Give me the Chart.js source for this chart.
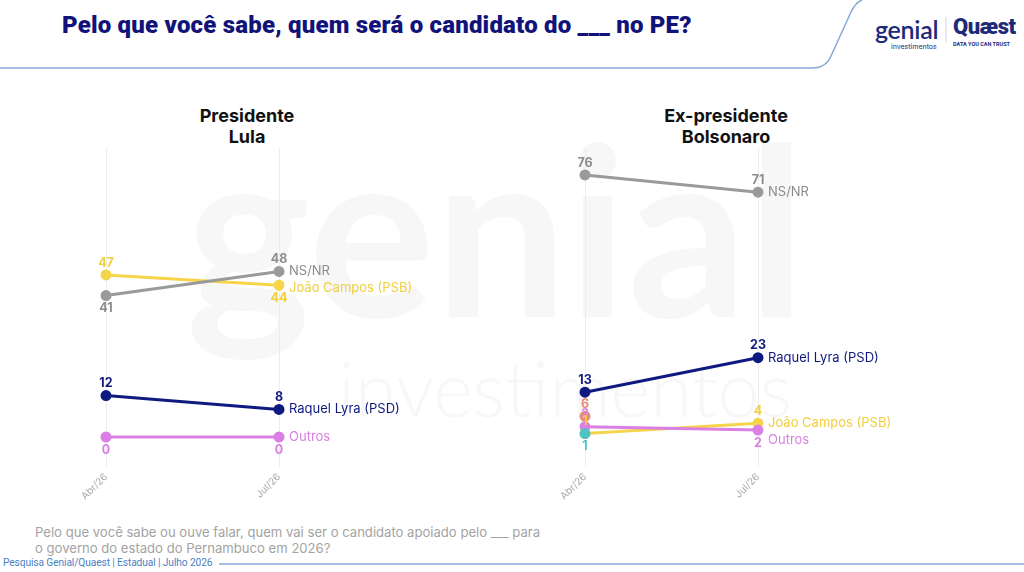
<!DOCTYPE html>
<html>
<head>
<meta charset="UTF-8">
<title>Pelo que você sabe, quem será o candidato do ___ no PE?</title>
<script src="https://cdn.jsdelivr.net/npm/chart.js"></script>
<style>
    body { margin: 0; width: 1024px; height: 572px; overflow: hidden; background: #fff; position: relative; font-family: Inter, sans-serif; }
    .marca { position: absolute; color: #f7f7f7; font-family: Lato, sans-serif; white-space: nowrap; }
    #titulo { position: absolute; left: 62px; top: 11px; font: 900 24px Roboto, sans-serif; color: #11137a; letter-spacing: 0.2px; }
    .subtitulo { position: absolute; width: 240px; text-align: center; font: bold 18px Inter, sans-serif; color: #111; line-height: 21px; }
    canvas { position: absolute; }
    #pergunta { position: absolute; left: 35px; top: 524px; font: 13.1px Inter, sans-serif; color: #a3a3a3; line-height: 16px; }
    #fonte { position: absolute; left: 3px; top: 557px; font: 10.2px Roboto, sans-serif; color: #4b80c2; letter-spacing: -0.1px; }
    #logos { position: absolute; left: 874px; top: 14px; width: 150px; height: 40px; }
</style>
</head>
<body>
<div class="marca" style="left:186px; top:84px; font-size:236px; font-weight:700;">genial</div>
<div class="marca" style="left:338px; top:342px; font-size:76px; font-weight:300;">investimentos</div>

<svg width="1024" height="572" style="position:absolute; left:0; top:0;">
    <path d="M0 68 L812 68 Q826 68 831 56 L851 12 Q856 2 862 0" fill="none" stroke="#86a9d6" stroke-width="1.5"/>
    <line x1="219" y1="564" x2="1024" y2="564" stroke="#86a9d6" stroke-width="1.5"/>
    <line x1="946" y1="17" x2="946" y2="42" stroke="#d0d4e4" stroke-width="1"/>
</svg>

<div id="titulo">Pelo que você sabe, quem será o candidato do ___ no PE?</div>

<div id="logos">
    <div style="position:absolute; left:1px; top:0; font:600 25px Lato, sans-serif; color:#1d2a7a; letter-spacing:-0.3px;">genial</div>
    <div style="position:absolute; left:17px; top:28px; font:7px Inter, sans-serif; color:#1d2a7a;">investimentos</div>
    <div style="position:absolute; left:79px; top:0; font:900 22px Roboto, sans-serif; color:#1d2a7a; letter-spacing:-0.5px;">Quæst</div>
    <div style="position:absolute; left:79px; top:27px; font:bold 5.5px Roboto, sans-serif; color:#1d2a7a;">DATA YOU CAN TRUST</div>
</div>

<div class="subtitulo" style="left:127px; top:105px;">Presidente<br>Lula</div>
<div class="subtitulo" style="left:606px; top:105px;">Ex-presidente<br>Bolsonaro</div>

<canvas id="graficoLula" width="380" height="370" style="left:40px; top:140px;"></canvas>
<canvas id="graficoBolsonaro" width="380" height="370" style="left:519px; top:140px;"></canvas>

<div id="pergunta">Pelo que você sabe ou ouve falar, quem vai ser o candidato apoiado pelo ___ para<br>o governo do estado do Pernambuco em 2026?</div>
<div id="fonte">Pesquisa Genial/Quaest | Estadual | Julho 2026</div>

<script>
    // Dados
    const periodos = ['Abr/26', 'Jul/26'];

    const lulaNsnr = [41, 48];
    const lulaJoao = [47, 44];
    const lulaRaquel = [12, 8];
    const lulaOutros = [0, 0];

    const bolsoNsnr = [76, 71];
    const bolsoRaquel = [13, 23];
    const bolsoJoao = [1, 4];
    const bolsoOutros = [3, 2];
    const bolsoNome1 = [6, null];
    const bolsoNome2 = [1, null];

    const cores = {
        nsnr: '#9a9a9a',
        joao: '#f6d54a',
        raquel: '#0f1a80',
        outros: '#da80e4',
        nome1: '#ec8a78',
        nome2: '#4fc3c3'
    };

    function serie(nome, dados, cor, lados, corTexto) {
        return {
            label: nome,
            nome: nome,
            data: dados,
            lados: lados,
            corTexto: corTexto || cor,
            borderColor: cor,
            backgroundColor: cor,
            borderWidth: 3,
            pointRadius: 4,
            clip: false
        };
    }

    // Rótulos de valor e nomes no fim das linhas
    const rotulos = {
        id: 'rotulos',
        afterDatasetsDraw(chart) {
            const ctx = chart.ctx;
            ctx.save();
            const fim = [];
            chart.data.datasets.forEach((ds, i) => {
                const meta = chart.getDatasetMeta(i);
                ctx.font = 'bold 12.5px Inter';
                ctx.textAlign = 'center';
                ctx.textBaseline = 'middle';
                ctx.fillStyle = ds.corTexto;
                meta.data.forEach((pt, j) => {
                    const v = ds.data[j];
                    if (v === null) return;
                    const y = ds.lados[j] === 'top' ? pt.y - 12 : pt.y + 13;
                    ctx.fillText(v, pt.x, y);
                });
                const n = ds.data.length - 1;
                if (ds.data[n] !== null) {
                    fim.push({ texto: ds.nome, x: meta.data[n].x + 10, y: meta.data[n].y, cor: ds.corTexto });
                }
            });
            fim.sort((a, b) => a.y - b.y);
            for (let k = 1; k < fim.length; k++) {
                if (fim[k].y - fim[k - 1].y < 17) fim[k].y = fim[k - 1].y + 17;
            }
            ctx.font = '13px Inter';
            ctx.textAlign = 'left';
            fim.forEach(f => {
                ctx.fillStyle = f.cor;
                ctx.fillText(f.texto, f.x, f.y);
            });
            ctx.restore();
        }
    };

    function criarGrafico(id, datasets) {
        return new Chart(document.getElementById(id), {
            type: 'line',
            data: { labels: periodos, datasets: datasets },
            options: {
                responsive: false,
                animation: false,
                layout: { padding: { left: 66, right: 141, top: 8, bottom: 3 } },
                plugins: { legend: { display: false }, tooltip: { enabled: false } },
                scales: {
                    x: {
                        offset: false,
                        grid: { color: '#ececec', drawTicks: false },
                        border: { display: false },
                        ticks: {
                            color: '#a9a9a9',
                            font: { size: 10, family: 'Inter' },
                            minRotation: 45,
                            maxRotation: 45,
                            padding: 4
                        },
                        afterFit(scale) { scale.height = 40; }
                    },
                    y: { display: false, min: -8.7, max: 83.8 }
                }
            },
            plugins: [rotulos]
        });
    }

    criarGrafico('graficoLula', [
        serie('NS/NR', lulaNsnr, cores.nsnr, ['bottom', 'top'], '#8c8c8c'),
        serie('Raquel Lyra (PSD)', lulaRaquel, cores.raquel, ['top', 'top']),
        serie('Outros', lulaOutros, cores.outros, ['bottom', 'bottom']),
        serie('João Campos (PSB)', lulaJoao, cores.joao, ['top', 'bottom'], '#f2cf3c')
    ]);

    criarGrafico('graficoBolsonaro', [
        serie('NS/NR', bolsoNsnr, cores.nsnr, ['top', 'top'], '#8c8c8c'),
        serie('Raquel Lyra (PSD)', bolsoRaquel, cores.raquel, ['top', 'top']),
        serie('Outro nome 2', bolsoNome2, cores.nome2, ['bottom', 'bottom']),
        serie('Outro nome 1', bolsoNome1, cores.nome1, ['top', 'top']),
        serie('Outros', bolsoOutros, cores.outros, ['top', 'bottom']),
        serie('João Campos (PSB)', bolsoJoao, cores.joao, ['top', 'top'], '#f2cf3c')
    ]);
</script>
</body>
</html>
